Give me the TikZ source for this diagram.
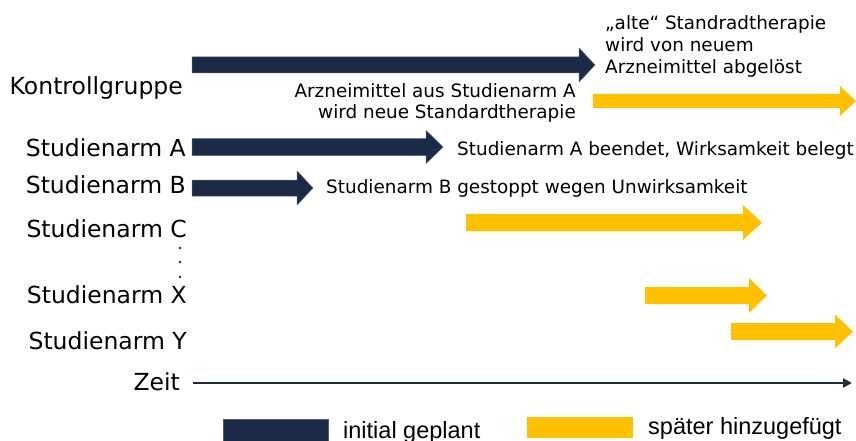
\documentclass[tikz,border=0pt]{standalone}
\usepackage{fontspec}
\setmainfont{DejaVu Sans}
\newfontfamily\legfont{Liberation Sans}
\usetikzlibrary{arrows.meta}
\definecolor{navy}{RGB}{27,42,71}
\definecolor{navyedge}{RGB}{80,95,120}
\definecolor{gold}{RGB}{255,192,0}
\newcommand\barrow[7]{% style, x0, xbase, xtip, yc, body half, head half
  \path[#1] (#2,{#5-#6}) -- (#3,{#5-#6}) -- (#3,{#5-#7}) -- (#4,#5) -- (#3,{#5+#7}) -- (#3,{#5+#6}) -- (#2,{#5+#6}) -- cycle;}
\begin{document}
\begin{tikzpicture}[x=1pt,y=-1pt,
  lbl/.style={anchor=base east,inner sep=0pt,font=\fontsize{23.5}{27}\selectfont},
  ann/.style={inner sep=0pt,font=\fontsize{18.4}{22}\selectfont},
  leg/.style={anchor=base west,inner sep=0pt,font=\legfont\fontsize{23.5}{27}\selectfont},
  plan/.style={fill=navy,draw=navyedge,line width=0.5pt},
  late/.style={fill=gold}]
\useasboundingbox (0,0) rectangle (856,441);
% left labels
\node[lbl] (kg) at (183,95) {Kontrollgruppe};
\node[lbl] (sa) at (186,157) {Studienarm A};
\node[lbl] (sb) at (186,193) {Studienarm B};
\node[lbl] (sc) at (187,237) {Studienarm C};
\node[lbl] (sx) at (187,303) {Studienarm X};
\node[lbl] (sy) at (187,349) {Studienarm Y};
\node[lbl] (zeit) at (180,390) {Zeit};
% vertical dots
\foreach \yy/\nm in {248/d1,262/d2,277/d3}
  \fill[black!85] (180,\yy) circle (1.3);
% planned arrows
\barrow{plan}{192}{579}{595}{65}{8}{17}
\barrow{plan}{192}{426}{443}{147}{8.5}{16.5}
\barrow{plan}{192}{297}{313}{188}{8}{17}
% later arrows
\barrow{late}{593}{840}{856}{101}{7}{15}
\barrow{late}{466}{743}{762}{222.5}{8.5}{17.5}
\barrow{late}{645}{749}{767}{295.5}{8.5}{17.5}
\barrow{late}{731}{835}{853}{331.5}{8.5}{17}
% annotations
\node[ann,anchor=base west] (t1) at (605,30) {„alte“ Standradtherapie};
\node[ann,anchor=base west] (t2) at (605,52) {wird von neuem};
\node[ann,anchor=base west] (t3) at (605,73.5) {Arzneimittel abgelöst};
\node[ann,anchor=base east] (u1) at (576,98) {Arzneimittel aus Studienarm A};
\node[ann,anchor=base east] (u2) at (576,119) {wird neue Standardtherapie};
\node[ann,anchor=base west] (va) at (457,155) {Studienarm A beendet, Wirksamkeit belegt};
\node[ann,anchor=base west] (vb) at (326,193) {Studienarm B gestoppt wegen Unwirksamkeit};
% time axis
\coordinate (ax0) at (193,383);
\coordinate (ax1) at (852,383);
\draw[navy,line width=2pt,-{Triangle[length=9pt,width=9pt]}] (ax0) -- (ax1);
% legend
\path[plan] (223,419) rectangle (328,443);
\node[leg] (lg1) at (343,438.5) {initial geplant};
\path[late] (527,417) rectangle (633,438);
\node[leg] (lg2) at (648,434.5) {später hinzugefügt};
\end{tikzpicture}
\end{document}
